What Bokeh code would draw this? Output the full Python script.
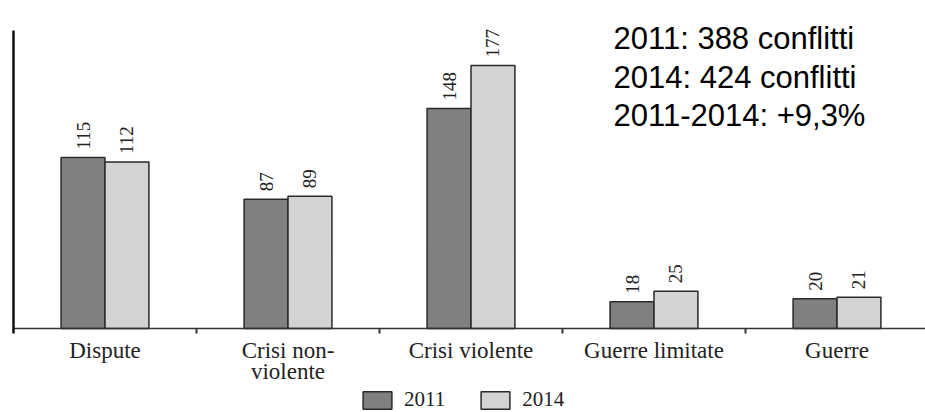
from math import pi
from bokeh.plotting import figure
from bokeh.models import (Range1d, Span, Label, Legend, LegendItem, ColumnDataSource)
from bokeh.transform import dodge
from bokeh.core.properties import value
from bokeh.embed import file_html
from bokeh.resources import INLINE

categories = ["Dispute", "Crisi non-\nviolente", "Crisi violente", "Guerre limitate", "Guerre"]
years = ["2011", "2014"]
values_2011 = [115, 87, 148, 18, 20]
values_2014 = [112, 89, 177, 25, 21]
summary_lines = ["2011: 388 conflitti", "2014: 424 conflitti", "2011-2014: +9,3%"]

n = len(categories)
centers = [i + 0.5 for i in range(n)]
boundaries = list(range(1, n))

# layout (pixels)
PX_X = 183.0          # pixels per category
PX_Y = 1.486          # pixels per unit
LEFT_PX, BASE_PX = 13, 328
FRAME_W, FRAME_H = 925, 412
x_start = -LEFT_PX / PX_X
x_end = x_start + FRAME_W / PX_X
y_end = BASE_PX / PX_Y
y_start = y_end - FRAME_H / PX_Y
axis_top = (BASE_PX - 30) / PX_Y
tick_low = -5 / PX_Y

src = ColumnDataSource(dict(
    x=centers,
    v2011=values_2011, v2014=values_2014,
    l2011=[str(v) for v in values_2011], l2014=[str(v) for v in values_2014],
))

p = figure(frame_width=FRAME_W, frame_height=FRAME_H,
           x_range=Range1d(x_start, x_end), y_range=Range1d(y_start, y_end),
           output_backend="svg", toolbar_location=None,
           x_axis_location=None, y_axis_location=None,
           min_border_left=0, min_border_right=0, min_border_top=0, min_border_bottom=0)
p.grid.visible = False
p.outline_line_color = None
p.background_fill_color = "white"

bw = 0.24
c2011, c2014 = "#808083", "#d2d3d5"
edge = "#2a2a2a"
r1 = p.vbar(x=dodge("x", -bw / 2, range=p.x_range), top="v2011", width=bw, source=src,
            fill_color=c2011, line_color=edge, line_width=1.5)
r2 = p.vbar(x=dodge("x", bw / 2, range=p.x_range), top="v2014", width=bw, source=src,
            fill_color=c2014, line_color=edge, line_width=1.5)

for off, col in ((-bw / 2, "2011"), (bw / 2, "2014")):
    p.text(x=dodge("x", off, range=p.x_range), y="v" + col, text="l" + col, source=src,
           angle=pi / 2, text_align="left", text_baseline="middle", y_offset=-8,
           text_font=value("Liberation Serif"), text_font_size="19px", text_color="#222222")

# baseline, left axis line, boundary ticks
p.segment(x0=[0], y0=[0], x1=[x_end], y1=[0], line_color="#333333", line_width=1.5)
p.segment(x0=[0], y0=[tick_low], x1=[0], y1=[axis_top], line_color="#111111", line_width=2.5)
p.segment(x0=boundaries, y0=[0] * len(boundaries), x1=boundaries, y1=[tick_low] * len(boundaries),
          line_color="#333333", line_width=2)

# category labels under the baseline
p.text(x=centers, y=[0] * n, text=categories, text_align="center", text_baseline="top",
       y_offset=9, text_font=value("Liberation Serif"), text_font_size="23px",
       text_color="#222222", text_line_height=0.87)

legend = Legend(items=[LegendItem(label=years[0], renderers=[r1]),
                       LegendItem(label=years[1], renderers=[r2])],
                orientation="horizontal", location=(359, 0),
                label_text_font="Liberation Serif", label_text_font_size="21px",
                label_text_color="#222222",
                glyph_width=36, glyph_height=22, label_standoff=9, spacing=32,
                border_line_color=None, background_fill_alpha=0,
                padding=0, margin=0, label_height=18)
p.add_layout(legend)

# summary text (top right)
text_x = (613 - LEFT_PX) / PX_X
baseline_px = [38, 77, 115]
for line, bpx in zip(summary_lines, baseline_px):
    p.add_layout(Label(x=text_x, y=(BASE_PX - bpx) / PX_Y, text=line,
                       text_font="Liberation Sans", text_font_size="31px",
                       text_color="black", text_baseline="alphabetic"))

open("out.html", "w").write(file_html(p, INLINE))
